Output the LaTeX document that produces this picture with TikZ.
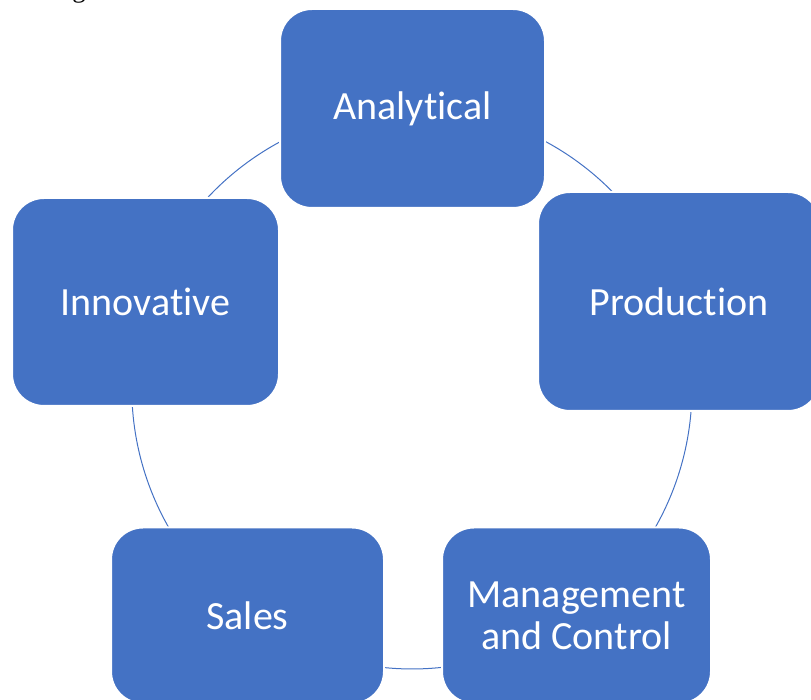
\documentclass[tikz,border=0pt]{standalone}
\usepackage{fontspec}
\setmainfont{Carlito}[RawFeature={-liga,-dlig,-clig}]
\newfontfamily\capfont{Liberation Serif}
\usetikzlibrary{backgrounds}
\definecolor{cycleblue}{RGB}{68,114,196}
\tikzset{
	cyclebox/.style={draw=white,line width=1.5pt,fill=cycleblue,rounded corners=24pt,
		text=white,inner sep=0pt,align=center,font=\fontsize{30}{31.5}\selectfont},
	cyclelink/.style={draw=cycleblue,line width=0.75pt}
}

\begin{document}
\begin{tikzpicture}[line cap=round,line join=round,x=0.75pt,y=0.75pt]
			\clip(0,0) rectangle (811,700);
			% cut caption letter above the figure
			\node[anchor=base west,inner sep=0pt,font=\capfont\fontsize{20}{24}\selectfont] (cap) at (72,702) {g};
			% the five boxes
			\node[cyclebox,minimum width=198.75pt,minimum height=149.25pt] (ana) at (412.5,591.5) {Analytical};
			\node[cyclebox,minimum width=200.25pt,minimum height=156pt] (inn) at (145.5,398) {Innovative};
			\node[cyclebox,minimum width=211.5pt,minimum height=164.25pt] (pro) at (679,398.5) {Production};
			\node[cyclebox,minimum width=204.75pt,minimum height=132pt] (sal) at (247.5,84.5) {Sales};
			\node[cyclebox,minimum width=201.75pt,minimum height=132pt] (man) at (576.5,84.5) {Management\\and Control};
			% ring between the boxes
			\begin{scope}[on background layer]
				\foreach \n/\a in {ana/90,inn/162,sal/234,man/306,pro/18}
					\draw[cyclelink] (\n.center) arc[start angle=\a,end angle=\a+72,radius=280];
			\end{scope}
		\end{tikzpicture}
\end{document}
